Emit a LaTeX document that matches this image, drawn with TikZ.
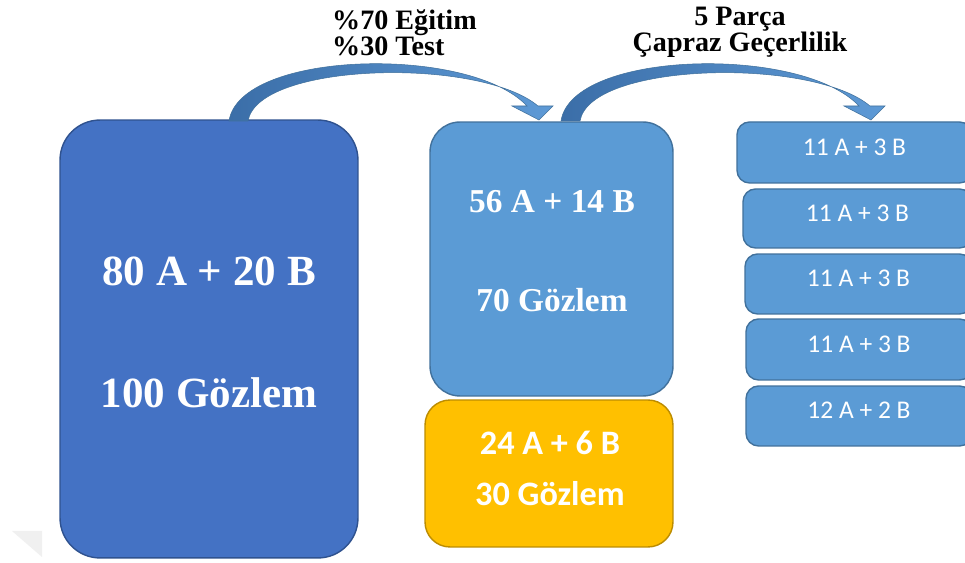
\documentclass[tikz,border=0pt]{standalone}
\usepackage{fontspec}
\setmainfont{Liberation Serif}
\newfontfamily\calib{Carlito}
\usetikzlibrary{calc}
\definecolor{darkblue}{HTML}{4472C4}
\definecolor{darkblueline}{HTML}{2F528F}
\definecolor{midblue}{HTML}{5B9BD5}
\definecolor{midblueline}{HTML}{41719C}
\definecolor{amber}{HTML}{FFC000}
\definecolor{amberline}{HTML}{BC8C00}
\definecolor{arrowdark}{HTML}{3B6EA8}
\definecolor{arrowlight}{HTML}{5E9AD6}
\tikzset{
  box/.style={rectangle, draw, line width=0.8pt},
  bigbox/.style={box, fill=darkblue, draw=darkblueline, rounded corners=0.8cm,
    minimum width=5.96cm, minimum height=8.76cm},
  trainbox/.style={box, fill=midblue, draw=midblueline, rounded corners=0.6cm,
    minimum width=4.86cm, minimum height=5.48cm},
  testbox/.style={box, fill=amber, draw=amberline, rounded corners=0.5cm,
    minimum width=4.96cm, minimum height=2.94cm},
  foldbox/.style={box, fill=midblue, draw=midblueline, rounded corners=0.25cm,
    font=\calib\fontsize{14.5}{17}\selectfont, text=white, text depth=0.22cm},
  serifbig/.style={text=white, font=\bfseries\fontsize{24.5}{29}\selectfont},
  serifmid/.style={text=white, font=\bfseries\fontsize{19}{23}\selectfont},
  sansmid/.style={text=white, font=\calib\bfseries\fontsize{19.5}{23}\selectfont},
  heading/.style={text=black, font=\bfseries\fontsize{16}{15}\selectfont},
  bendarrow/.style={left color=arrowdark, right color=arrowlight, draw=midblueline, line width=0.3pt},
}
\begin{document}
\begin{tikzpicture}[x=0.02cm, y=-0.02cm]
  \useasboundingbox (0,0) rectangle (965,563);
  \clip (0,0) rectangle (965,563);
  \fill[white] (0,0) rectangle (965,563);

  % faint shadow corner at the lower left
  \fill[gray!12] (12,531) -- (42,531) -- (42,557) -- cycle;

  % full data set
  \node[bigbox] (all) at (209,339) {};
  \node[serifbig] (allAB) at (209,271) {80 A + 20 B};
  \node[serifbig] (allN) at (209,393) {100 Gözlem};

  % training part
  \node[trainbox] (train) at (551.5,259) {};
  \node[serifmid] (trainAB) at (552,202) {56 A + 14 B};
  \node[serifmid] (trainN) at (552,300) {70 Gözlem};

  % test part
  \node[testbox] (test) at (549,473.5) {};
  \node[sansmid] (testAB) at (550,443) {24 A + 6 B};
  \node[sansmid] (testN) at (550,494) {30 Gözlem};

  % five cross-validation folds
  \node[foldbox, minimum width=4.70cm, minimum height=1.22cm] (f1) at (854.5,152.5) {11 A + 3 B};
  \node[foldbox, minimum width=4.58cm, minimum height=1.18cm] (f2) at (857.5,218.5) {11 A + 3 B};
  \node[foldbox, minimum width=4.54cm, minimum height=1.20cm] (f3) at (858.5,284) {11 A + 3 B};
  \node[foldbox, minimum width=4.52cm, minimum height=1.22cm] (f4) at (859,349.5) {11 A + 3 B};
  \node[foldbox, minimum width=4.52cm, minimum height=1.20cm] (f5) at (859,416) {12 A + 2 B};

  % curved block arrows
  \foreach \dx in {0,332}{
    \begin{scope}[xshift=\dx*0.02cm]
      \path[bendarrow]
        (229,121) .. controls (240,50) and (470,45) .. (527,106)
        -- (512,106) -- (539,120) -- (553,106) -- (538,106)
        .. controls (480,57) and (258,62) .. (248,121) -- cycle;
    \end{scope}
  }

  % arrow labels
  \node[heading, align=left, anchor=west] (split) at (326,33) {\%70 Eğitim\\\%30 Test};
  \node[heading, align=center] (cv) at (740,32) {5 Parça\\Çapraz Geçerlilik};
\end{tikzpicture}
\end{document}
